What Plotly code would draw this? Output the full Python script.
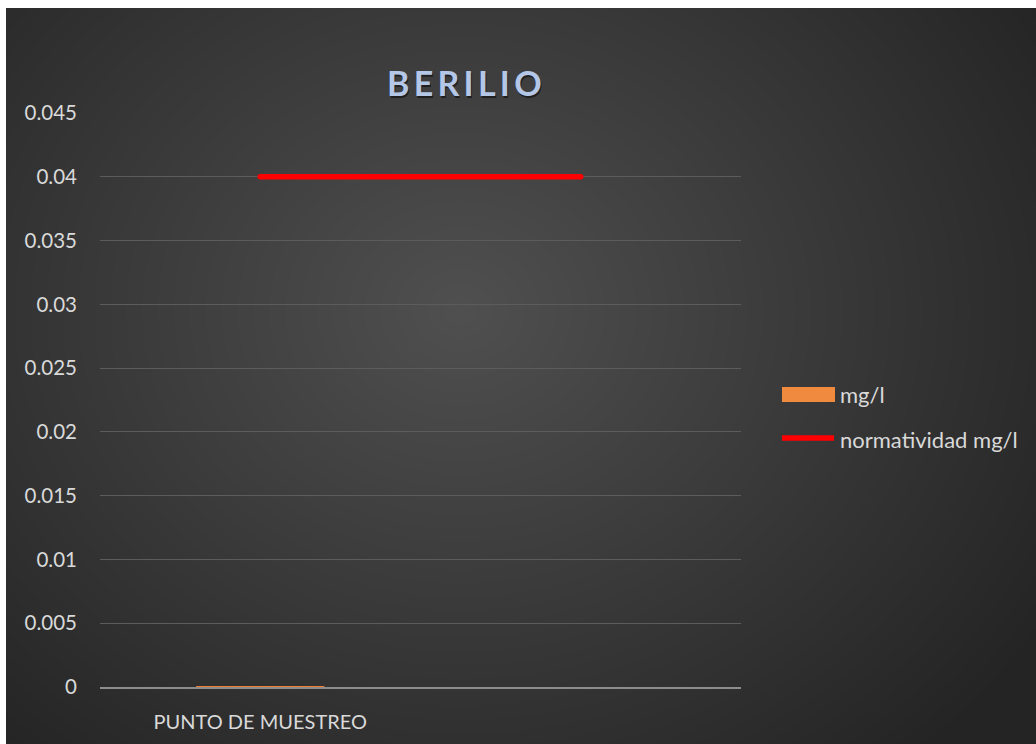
import base64
import struct
import zlib

import numpy as np
import plotly.graph_objects as go

# ---- data ----
categories = ["PUNTO DE MUESTREO", " "]
mg_l = [0.00005, None]
normatividad = [0.04, 0.04]
y_ticks = [0, 0.005, 0.01, 0.015, 0.02, 0.025, 0.03, 0.035, 0.04, 0.045]
y_tick_text = ["0", "0.005", "0.01", "0.015", "0.02", "0.025", "0.03", "0.035", "0.04", "0.045"]

W, H = 1036, 744
ML, MR, MT, MB = 100, 295, 113, 57
PW, PH = W - ML - MR, H - MT - MB


def png_data_uri(gray):
    """Encode a 2-D uint8 array as a grayscale PNG data URI."""
    h, w = gray.shape
    raw = b"".join(b"\x00" + gray[r].tobytes() for r in range(h))

    def chunk(tag, data):
        c = struct.pack(">I", len(data)) + tag + data
        return c + struct.pack(">I", zlib.crc32(tag + data) & 0xFFFFFFFF)

    png = b"\x89PNG\r\n\x1a\n"
    png += chunk(b"IHDR", struct.pack(">IIBBBBB", w, h, 8, 0, 0, 0, 0))
    png += chunk(b"IDAT", zlib.compress(raw, 9))
    png += chunk(b"IEND", b"")
    return "data:image/png;base64," + base64.b64encode(png).decode()


# radial dark-gray backdrop
bx0, by0 = 6, 8
bw, bh = W - bx0, H - by0
yy, xx = np.mgrid[0:bh, 0:bw]
cx, cy = 460 - bx0, 310 - by0
d = np.sqrt(((xx - cx) / 700.0) ** 2 + ((yy - cy) / 600.0) ** 2)
d = np.clip(d, 0, 1)
gray = (80 - (80 - 36) * d).astype(np.uint8)
bg_uri = png_data_uri(gray)


def px_x(px):
    return (px - ML) / PW


def px_y(py):
    return (H - MB - py) / PH


fig = go.Figure()

fig.add_trace(go.Bar(
    x=categories, y=mg_l, name="mg/l",
    marker=dict(color="#ED7D31", line=dict(width=0)),
    showlegend=False,
))
# round end markers give the limit line rounded caps
fig.add_trace(go.Scatter(
    x=categories, y=normatividad, name="normatividad mg/l",
    mode="lines+markers", line=dict(color="#FF0000", width=5.5),
    marker=dict(symbol="circle", size=5.5, color="#FF0000", line=dict(width=0)),
    showlegend=False,
))

FONT = "Lato, Open Sans, sans-serif"

fig.update_layout(
    width=W, height=H,
    margin=dict(l=ML, r=MR, t=MT, b=MB),
    paper_bgcolor="#FFFFFF",
    plot_bgcolor="rgba(0,0,0,0)",
    bargap=0.6,
    images=[dict(
        source=bg_uri, xref="paper", yref="paper",
        x=px_x(bx0), y=px_y(by0), sizex=bw / PW, sizey=bh / PH,
        xanchor="left", yanchor="top", sizing="stretch", layer="below",
    )],
    xaxis=dict(
        type="category", range=[-0.5, 1.5],
        showgrid=False, zeroline=False,
        showline=True, linecolor="#8C8C8C", linewidth=2,
        ticks="", tickfont=dict(family=FONT, size=20, color="#D9D9D9"),
        ticklabelstandoff=16,
    ),
    yaxis=dict(
        range=[0, 0.045], tickvals=y_ticks, ticktext=y_tick_text,
        showgrid=True, gridcolor="#5C5C5C", gridwidth=1.2,
        zeroline=False, showline=False, ticks="",
        tickfont=dict(family=FONT, size=20.5, color="#D9D9D9"),
        ticklabelstandoff=22,
    ),
    showlegend=False,
)

# title with a soft drop shadow
title_text = "\u2009".join("BERILIO")
for dx, dy, col in [(1, -2, "rgba(0,0,0,0.5)"), (0, 0, "#B4C7E7")]:
    fig.add_annotation(
        text=f"<b>{title_text}</b>", xref="paper", yref="paper",
        x=px_x(464), y=px_y(82), xshift=dx, yshift=dy,
        showarrow=False, xanchor="center", yanchor="middle",
        font=dict(family=FONT, size=34, color=col),
    )

# legend
fig.add_shape(type="rect", xref="paper", yref="paper",
              x0=px_x(782), x1=px_x(835), y0=px_y(402), y1=px_y(387),
              fillcolor="#F08A3E", line=dict(width=0))
fig.add_shape(type="line", xref="paper", yref="paper",
              x0=px_x(782), x1=px_x(834), y0=px_y(438), y1=px_y(438),
              line=dict(color="#FF0000", width=5.5))
for name, ypx in [("mg/l", 394), ("normatividad mg/l", 439)]:
    fig.add_annotation(
        text=name, xref="paper", yref="paper", x=px_x(838), y=px_y(ypx),
        showarrow=False, xanchor="left", yanchor="middle",
        font=dict(family=FONT, size=22, color="#D9D9D9"),
    )

fig.write_html("out.html")
